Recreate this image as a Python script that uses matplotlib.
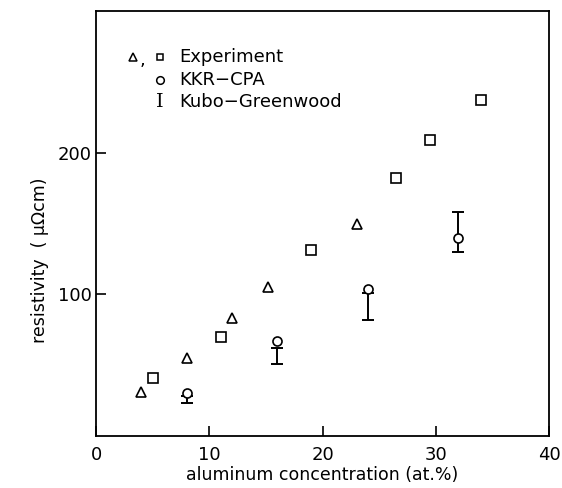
import matplotlib
matplotlib.use("Agg")
import matplotlib.pyplot as plt
import numpy as np

# experiment (two data sets), KKR-CPA and Kubo-Greenwood ranges
tri_x = [4, 8, 12, 15.2, 23]
tri_y = [31, 55, 83, 105, 150]
sq_x = [5, 11, 19, 26.5, 29.5, 34]
sq_y = [41, 70, 131, 182, 209, 237]
kkr_x = [8, 16, 24, 32]
kkr_y = [30, 67, 104, 140]
kg_x = [8, 16, 24, 32]
kg_lo = [23, 51, 82, 130]
kg_hi = [28, 62, 101, 158]

plt.rcParams['font.family'] = 'DejaVu Sans'

fig = plt.figure(figsize=(5.62, 4.88), dpi=100)
ax = fig.add_axes([0.171, 0.107, 0.806, 0.870])

lo = np.array(kg_lo)
hi = np.array(kg_hi)
mid = (lo + hi) / 2
ax.errorbar(kg_x, mid, yerr=[mid - lo, hi - mid], fmt='none', ecolor='k',
            elinewidth=1.4, capsize=4.5, capthick=1.4, zorder=2)
ax.plot(tri_x, tri_y, '^', ms=7, mfc='white', mec='k', mew=1.2, zorder=3)
ax.plot(sq_x, sq_y, 's', ms=6.5, mfc='white', mec='k', mew=1.2, zorder=3)
ax.plot(kkr_x, kkr_y, 'o', ms=6.5, mfc='white', mec='k', mew=1.2, zorder=3)

ax.set_xlim(0, 40)
ax.set_ylim(0, 300)
ax.set_xticks([0, 10, 20, 30, 40])
ax.set_yticks([100, 200])
ax.tick_params(direction='in', length=7, width=1.2, labelsize=13)
ax.tick_params(axis='x', pad=7)
ax.tick_params(axis='y', pad=3)
for s in ax.spines.values():
    s.set_linewidth(1.3)

ax.set_xlabel('aluminum concentration (at.%)', fontsize=12.5, labelpad=2)
ax.set_ylabel('resistivity  ( μΩcm)', fontsize=12.5, labelpad=10)
ax.yaxis.set_label_coords(-0.105, 0.414)

# legend drawn by hand like the original
tr = ax.transAxes
ax.plot([0.082], [0.892], '^', ms=5.5, mfc='white', mec='k', mew=1.1, transform=tr, clip_on=False)
ax.text(0.103, 0.885, ',', fontsize=13, ha='center', va='center', transform=tr)
ax.plot([0.141], [0.892], 's', ms=5, mfc='white', mec='k', mew=1.1, transform=tr, clip_on=False)
ax.text(0.183, 0.892, 'Experiment', fontsize=13, va='center', transform=tr)
ax.plot([0.141], [0.838], 'o', ms=5.5, mfc='white', mec='k', mew=1.1, transform=tr, clip_on=False)
ax.text(0.183, 0.838, 'KKR−CPA', fontsize=13, va='center', transform=tr)
ax.text(0.141, 0.786, 'I', fontsize=14, family='DejaVu Serif', ha='center', va='center', transform=tr)
ax.text(0.183, 0.786, 'Kubo−Greenwood', fontsize=13, va='center', transform=tr)

fig.savefig('out.png', dpi=100)
